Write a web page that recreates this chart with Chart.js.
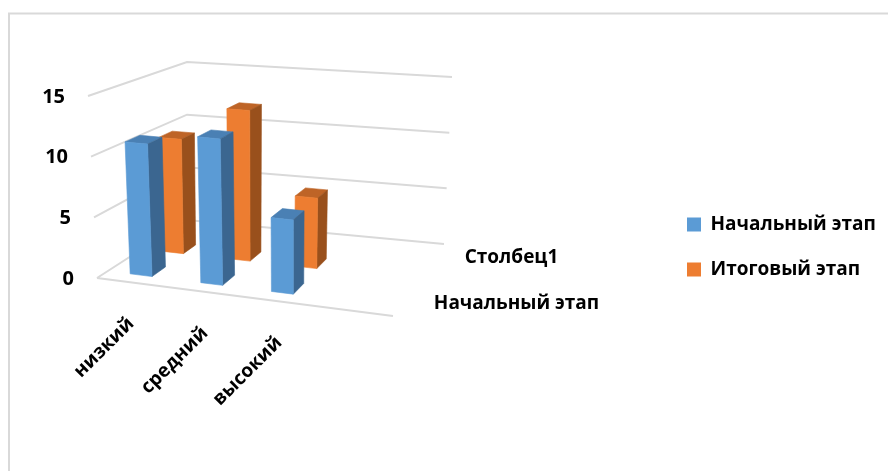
<!DOCTYPE html>
<html>
<head>
<meta charset="utf-8">
<style>
body { margin: 0; background: #fff; }
canvas { display: block; }
</style>
<script src="https://cdn.jsdelivr.net/npm/chart.js@4"></script>
</head>
<body>
<canvas id="chart" width="888" height="471"></canvas>
<script>
// 4th category is empty in the source sheet, that's why the bars stop short of the floor end
const categories = ['низкий', 'средний', 'высокий', ''];
const startValues = [11, 12, 6, null];
const finalValues = [10, 13, 6, null];
const yTicks = [0, 5, 10, 15];
const depthLabels = ['Начальный этап', 'Столбец1'];

const FONT = 'bold 19px "Open Sans"';
const TICK_FONT = 'bold 20px "Open Sans"';

// screen corners of the 3D box: front/back, left/right, bottom/top
const box = {
    flb: [97, 278], frb: [393, 316], blb: [187, 220], brb: [444, 244],
    flt: [88, 96], frt: [397, 124], blt: [187, 62], brt: [452, 77]
};

function lerp(a, b, t) {
    return [a[0] + (b[0] - a[0]) * t, a[1] + (b[1] - a[1]) * t];
}

// u along categories, v up the value axis, d into the depth, all 0..1
function project(u, v, d) {
    const bottom = lerp(lerp(box.flb, box.frb, u), lerp(box.blb, box.brb, u), d);
    const top = lerp(lerp(box.flt, box.frt, u), lerp(box.blt, box.brt, u), d);
    return lerp(bottom, top, v);
}

function poly(ctx, pts, color) {
    ctx.beginPath();
    pts.forEach((p, i) => i ? ctx.lineTo(p[0], p[1]) : ctx.moveTo(p[0], p[1]));
    ctx.closePath();
    ctx.fillStyle = color;
    ctx.strokeStyle = color;
    ctx.lineWidth = 0.6;
    ctx.fill();
    ctx.stroke();
}

// k and c squeeze each depth row a little, rows further back look narrower
const rows = [
    {d0: 0.12, d1: 0.28, k: 0.97, c: -0.007, side: '#3B6690', top: '#4A80B4'},
    {d0: 0.5, d1: 0.645, k: 0.965, c: -0.011, side: '#99501C', top: '#BE6427'}
];

const box3d = {
    id: 'box3d',
    beforeDraw(chart) {
        const ctx = chart.ctx;
        ctx.save();
        ctx.strokeStyle = '#D9D9D9';
        ctx.lineWidth = 2;
        ctx.beginPath();
        ctx.moveTo(9, chart.height);
        ctx.lineTo(9, 13.5);
        ctx.lineTo(chart.width, 13.5);
        ctx.stroke();
        ctx.restore();
    },
    beforeDatasetsDraw(chart) {
        const ctx = chart.ctx;
        const y = chart.scales.y;
        ctx.save();
        ctx.strokeStyle = '#D9D9D9';
        ctx.lineWidth = 2;
        y.ticks.forEach(t => {
            const v = (y.bottom - y.getPixelForValue(t.value)) / (y.bottom - y.top);
            const a = project(0, v, 0), b = project(0, v, 1), c = project(1, v, 1);
            ctx.beginPath();
            ctx.moveTo(a[0], a[1]);
            ctx.lineTo(b[0], b[1]);
            ctx.lineTo(c[0], c[1]);
            if (t.value === 0) {
                const e = project(1, 0, 0);
                ctx.moveTo(a[0], a[1]);
                ctx.lineTo(e[0], e[1]);
            }
            ctx.stroke();
        });
        ctx.restore();
    },
    // bars get projected here, the library's flat rectangle is skipped
    beforeDatasetDraw(chart, args) {
        const ctx = chart.ctx;
        const x = chart.scales.x, y = chart.scales.y;
        const row = rows[args.index];
        const color = chart.data.datasets[args.index].backgroundColor;
        args.meta.data.forEach((el, i) => {
            if (chart.data.datasets[args.index].data[i] === null) return;
            const mid = (el.x - x.left) / x.width * row.k + row.c;
            const half = el.width / 2 / x.width;
            const u0 = mid - half, u1 = mid + half;
            const v = (y.bottom - el.y) / (y.bottom - y.top);
            const a = project(u0, v, row.d0), b = project(u1, v, row.d0);
            const c = project(u1, 0, row.d0), e = project(u0, 0, row.d0);
            const f = project(u1, v, row.d1), g = project(u1, 0, row.d1), h = project(u0, v, row.d1);
            poly(ctx, [a, b, f, h], row.top);
            poly(ctx, [b, f, g, c], row.side);
            poly(ctx, [a, b, c, e], color);
        });
        return false;
    },
    afterLayout(chart) {
        // legend sits lower and further left than the library would put it
        const lg = chart.legend;
        const h = lg.bottom - lg.top;
        lg.left = 661;
        lg.right = 888;
        lg.top = 189;
        lg.bottom = lg.top + h;
        lg.adjustHitBoxes();
    },
    afterDraw(chart) {
        const ctx = chart.ctx;
        const x = chart.scales.x, y = chart.scales.y;
        ctx.save();
        ctx.fillStyle = '#000';

        // value ticks follow the slanted front edge
        ctx.font = TICK_FONT;
        ctx.textAlign = 'right';
        ctx.textBaseline = 'middle';
        y.ticks.forEach(t => {
            const v = (y.bottom - y.getPixelForValue(t.value)) / (y.bottom - y.top);
            const p = project(0, v, 0);
            ctx.fillText(t.label, p[0] - 23, p[1] + 1);
        });

        // category labels hang off the front floor edge at 45 degrees
        ctx.font = FONT;
        x.ticks.forEach((t, i) => {
            if (!categories[i]) return;
            const u = (x.getPixelForTick(i) - x.left) / x.width;
            const p = project(u, 0, 0);
            ctx.save();
            ctx.translate(p[0] - 3, p[1] + 38);
            ctx.rotate(-Math.PI / 4);
            ctx.fillText(categories[i], 0, 0);
            ctx.restore();
        });

        // depth axis names
        ctx.textAlign = 'center';
        ctx.fillText(depthLabels[0], 516.5, 304);
        ctx.fillText(depthLabels[1], 511.5, 258);
        ctx.restore();
    }
};

new Chart(document.getElementById('chart').getContext('2d'), {
    type: 'bar',
    data: {
        labels: categories,
        datasets: [
            {label: 'Начальный этап', data: startValues, backgroundColor: '#5B9BD5', barPercentage: 0.3, categoryPercentage: 1},
            {label: 'Итоговый этап', data: finalValues, backgroundColor: '#ED7D31', barPercentage: 0.32, categoryPercentage: 1}
        ]
    },
    options: {
        responsive: false,
        animation: false,
        layout: {padding: {top: 96, bottom: 193, left: 97}},
        plugins: {
            tooltip: {enabled: false},
            legend: {
                position: 'right',
                align: 'start',
                labels: {
                    boxWidth: 14,
                    boxHeight: 14,
                    padding: 26,
                    color: '#000',
                    font: {family: 'Open Sans', size: 19, weight: 'bold'}
                }
            }
        },
        scales: {
            x: {
                grid: {display: false},
                border: {display: false},
                ticks: {display: false}
            },
            y: {
                min: 0,
                max: 15,
                afterBuildTicks(axis) { axis.ticks = yTicks.map(value => ({value})); },
                grid: {display: false},
                border: {display: false},
                ticks: {display: false}
            }
        },
        datasets: {bar: {grouped: false}}
    },
    plugins: [box3d]
});
</script>
</body>
</html>
